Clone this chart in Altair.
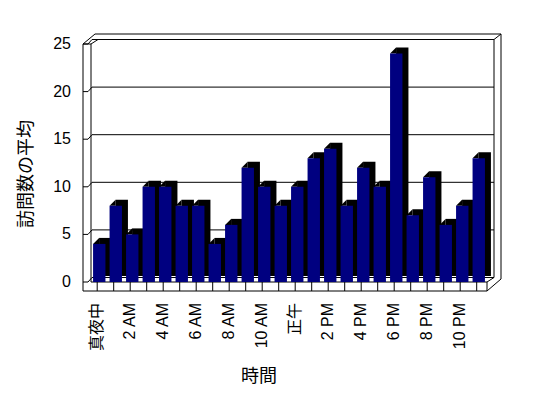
import altair as alt
import pandas as pd

# ---- data ----
hours = ["真夜中", "1 AM", "2 AM", "3 AM", "4 AM", "5 AM", "6 AM", "7 AM",
         "8 AM", "9 AM", "10 AM", "11 AM", "正午", "1 PM", "2 PM", "3 PM",
         "4 PM", "5 PM", "6 PM", "7 PM", "8 PM", "9 PM", "10 PM", "11 PM"]
visits = [4, 8, 5, 10, 10, 8, 8, 4, 6, 12, 10, 8,
          10, 13, 14, 8, 12, 10, 24, 7, 11, 6, 8, 13]
y_ticks = [0, 5, 10, 15, 20, 25]
x_tick_labels = hours[::2]
x_title = "時間"
y_title = "訪問数の平均"

# ---- styling / geometry ----
FONT = "Liberation Sans, Noto Sans CJK JP"
W, H = 396, 238
YMAX = 25
UNIT = H / YMAX            # pixels per unit
DX, DY = 7, 4.5            # depth of the 3D box (px right, px up)
DV = DY / UNIT             # depth in data units
BAR_DEPTH = 6
P_IN, P_OUT = 0.25, 0.125
STEP = W / (len(hours) - P_IN + 2 * P_OUT)

x_scale = alt.Scale(domain=hours, paddingInner=P_IN, paddingOuter=P_OUT)
y_scale = alt.Scale(domain=[0, YMAX], nice=False, zero=True)

bars_df = pd.DataFrame({"hour": hours, "visits": visits})
ticks_df = pd.DataFrame({"v": y_ticks, "label": [str(t) for t in y_ticks]})
xlab_df = pd.DataFrame({"hour": x_tick_labels})

X = alt.X("hour:N", scale=x_scale, sort=hours, axis=None)
Y = alt.Y("visits:Q", scale=y_scale, axis=None)

layers = []

# frame segments (decoration, pixel coordinates of the plot area)
def seg(x1, y1, x2, y2):
    return alt.Chart(alt.Data(values=[{"k": 1}])).mark_rule(
        color="black", strokeWidth=1
    ).encode(x=alt.value(x1), y=alt.value(y1), x2=alt.value(x2), y2=alt.value(y2))

TOP_OUT = -DY - 5.5
RIGHT_OUT = W + DX + 7
segments = [
    (-8, 0, -8, H + 9),                 # left wall outer face
    (0, 0, 0, H),                       # left wall inner edge
    (-8, 0, 0, 0),                      # left wall top
    (-8, 0, 4, TOP_OUT),                # top-left outer diagonal
    (0, 0, DX, -DY),                    # top-left inner diagonal
    (4, TOP_OUT, RIGHT_OUT, TOP_OUT),   # top outer edge
    (W + DX, -DY, RIGHT_OUT, TOP_OUT),  # top-right diagonal
    (RIGHT_OUT, TOP_OUT, RIGHT_OUT, H - 3),  # right outer edge
    (W + DX, -DY, W + DX, H - DY),      # right inner edge
    (0, H, W, H),                       # floor front top
    (-8, H + 9, W, H + 9),              # floor front bottom
    (W, H, W, H + 9),                   # floor right face
    (W, H + 9, RIGHT_OUT, H - 3),       # floor outer diagonal
    (W, H, W + DX, H - DY),             # floor inner diagonal
]
for s in segments:
    layers.append(seg(*s))

# back-wall gridlines
grid_back = alt.Chart(ticks_df).transform_calculate(
    vb=f"datum.v + {DV}"
).mark_rule(color="black", strokeWidth=1).encode(
    y=alt.Y("vb:Q", scale=y_scale, axis=None),
    x=alt.value(1), x2=alt.value(W + DX),
)
# left-wall tick marks and diagonals
wall_tick = alt.Chart(ticks_df).mark_rule(color="black", strokeWidth=1).encode(
    y=alt.Y("v:Q", scale=y_scale, axis=None),
    x=alt.value(-8), x2=alt.value(-3),
)
wall_diag = alt.Chart(ticks_df).transform_calculate(
    vb=f"datum.v + {DV}"
).mark_rule(color="black", strokeWidth=1).encode(
    y=alt.Y("v:Q", scale=y_scale, axis=None),
    y2="vb:Q",
    x=alt.value(-3), x2=alt.value(1),
)
# floor cell dividers
dividers = alt.Chart(bars_df).mark_rule(
    color="black", strokeWidth=1, xOffset=-STEP * P_IN / 2
).encode(x=X, y=alt.value(H), y2=alt.value(H + 9))

# 3D bars: black depth block, bevelled top-left corner, navy front face
shadow = alt.Chart(bars_df).mark_bar(
    color="black", xOffset=BAR_DEPTH, yOffset=-BAR_DEPTH
).encode(x=X, y=Y)

bevel = alt.Chart(bars_df).mark_point(
    shape="M-1,1L1,-1L1,1Z", size=BAR_DEPTH ** 2, filled=True, color="black",
    opacity=1, strokeWidth=0, xOffset=BAR_DEPTH / 2, yOffset=-BAR_DEPTH / 2,
).encode(
    x=alt.X("hour:N", scale=x_scale, sort=hours, axis=None, bandPosition=0),
    y=Y,
)

face = alt.Chart(bars_df).mark_bar(color="#000080").encode(x=X, y=Y)

# axis labels as text marks placed through the scales
y_labels = alt.Chart(ticks_df).mark_text(
    align="right", baseline="middle", font=FONT, fontSize=16, color="black"
).encode(
    y=alt.Y("v:Q", scale=y_scale, axis=None), x=alt.value(-20), text="label:N"
)
x_labels = alt.Chart(xlab_df).mark_text(
    align="right", baseline="middle", angle=270, font=FONT, fontSize=16,
    color="black", xOffset=-2,
).encode(x=X, y=alt.value(H + 21), text="hour:N")

x_title_mark = alt.Chart(alt.Data(values=[{"t": x_title}])).mark_text(
    align="center", baseline="middle", font=FONT, fontSize=18, color="black"
).encode(x=alt.value(168), y=alt.value(333), text="t:N")
y_title_mark = alt.Chart(alt.Data(values=[{"t": y_title}])).mark_text(
    align="center", baseline="middle", angle=270, font=FONT, fontSize=18,
    color="black"
).encode(x=alt.value(-64), y=alt.value(130), text="t:N")

layers += [grid_back, wall_tick, wall_diag, dividers, shadow, bevel, face,
           y_labels, x_labels, x_title_mark, y_title_mark]

chart = alt.layer(*layers).properties(
    width=W, height=H,
    padding={"left": 83, "top": 36, "right": 30, "bottom": 112},
    autosize=alt.AutoSizeParams(type="none"),
    background="white",
).configure_view(stroke=None)

chart.save("out.html", embed_options={"renderer": "svg", "actions": False})
